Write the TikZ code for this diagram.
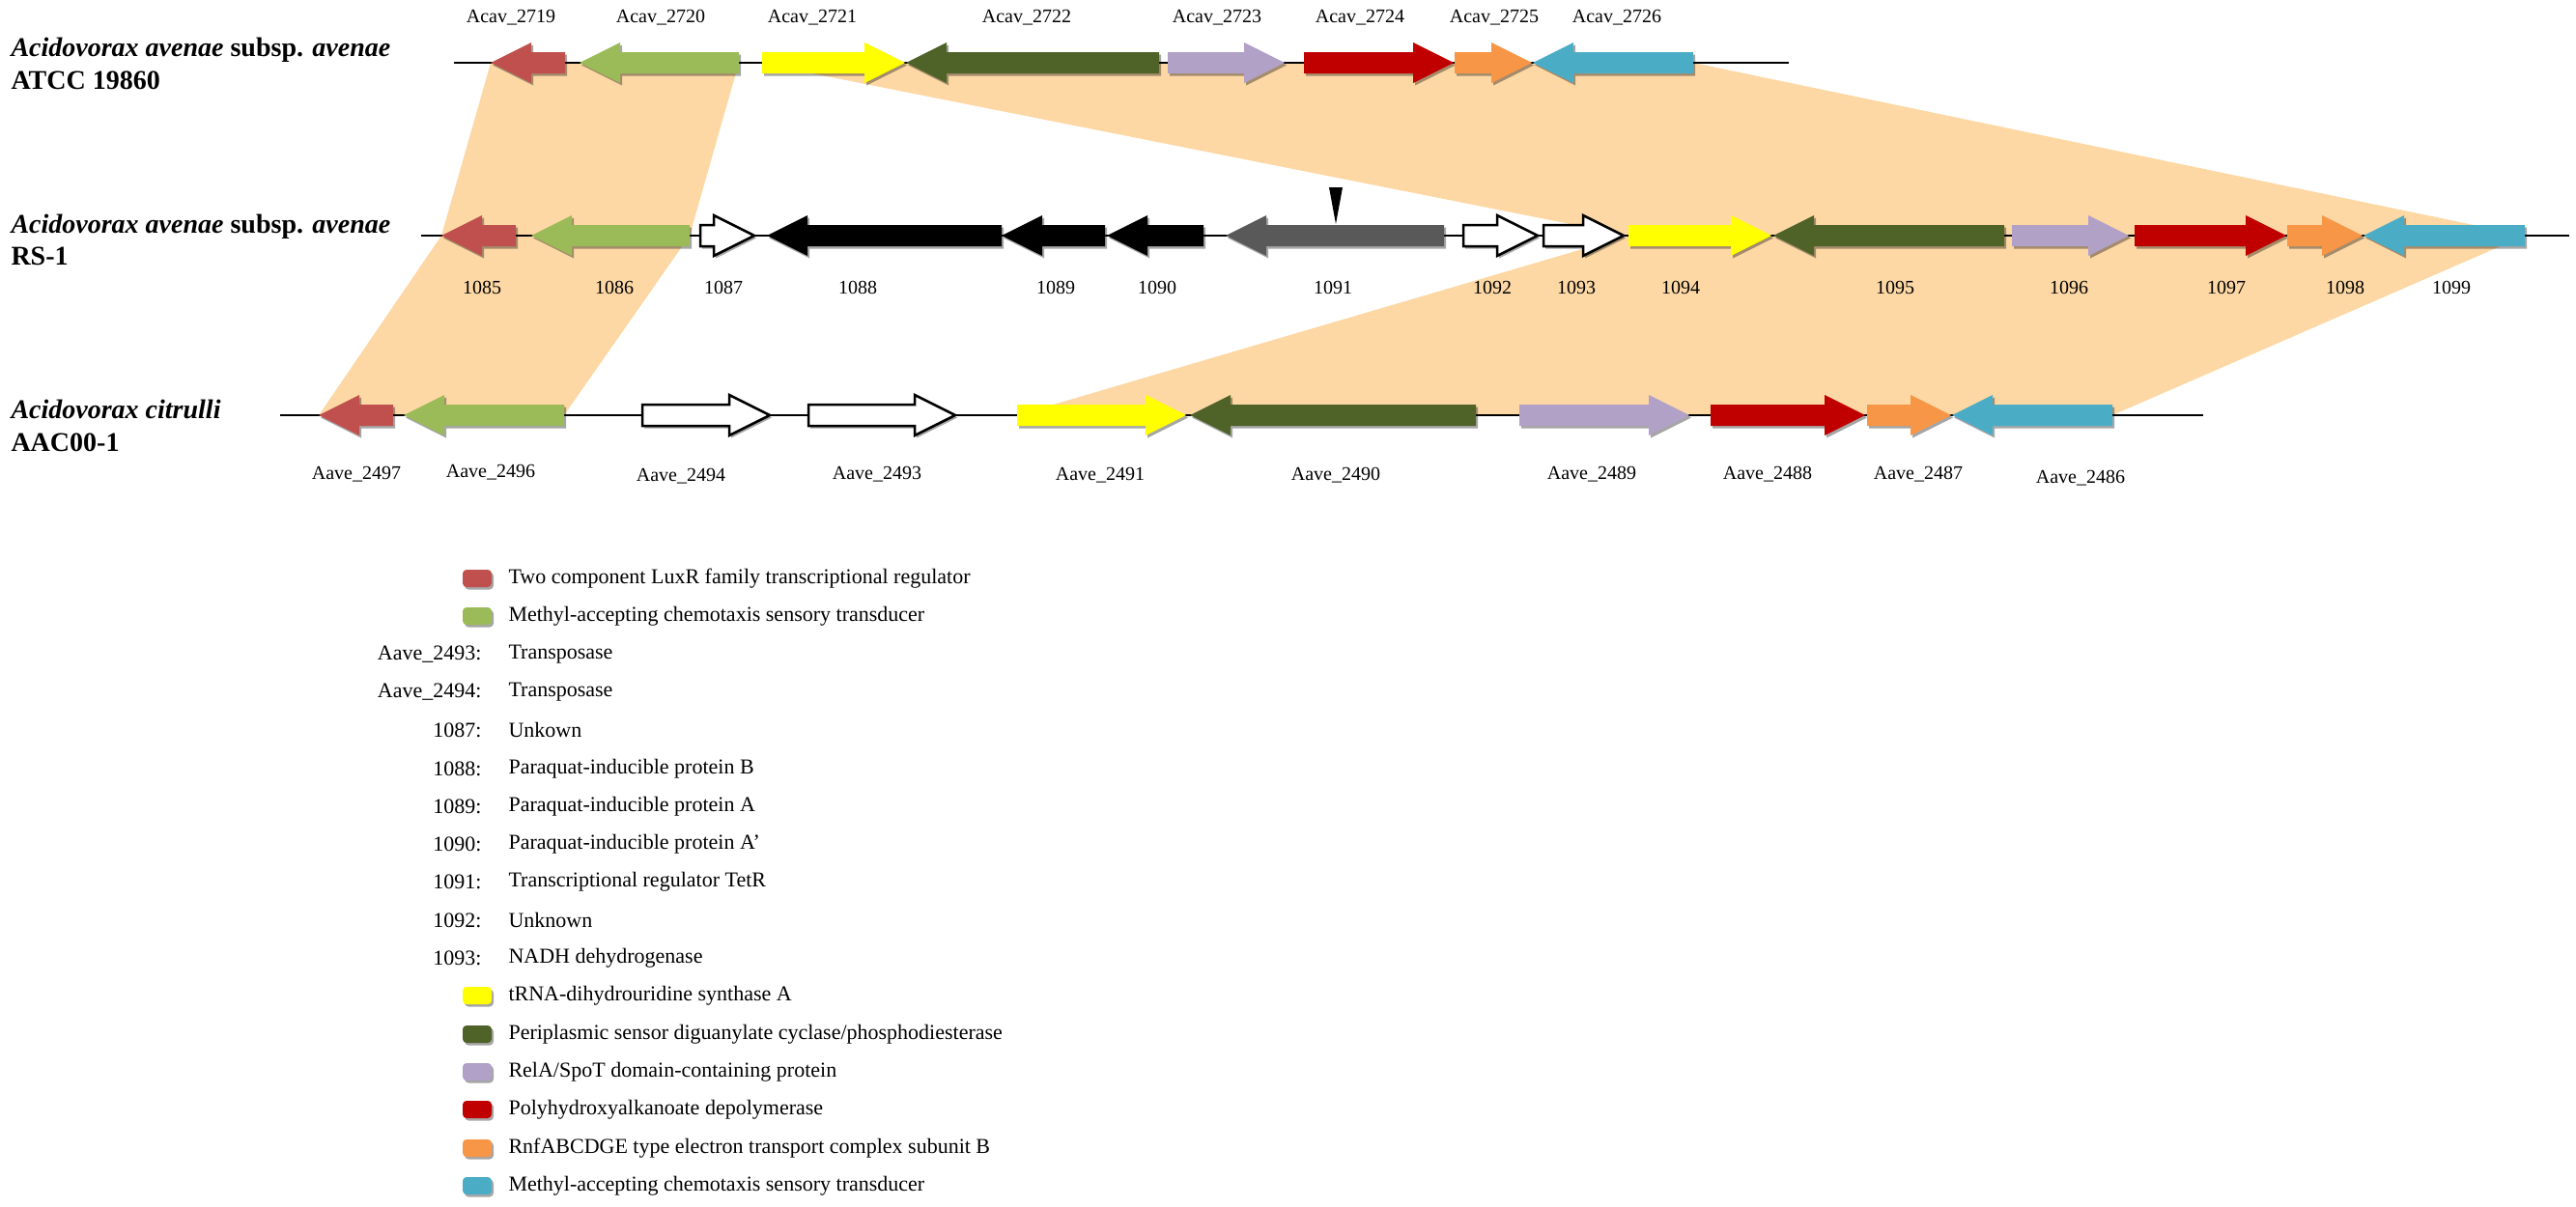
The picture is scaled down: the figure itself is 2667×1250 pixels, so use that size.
\documentclass[tikz,border=0pt]{standalone}
\usepackage{fontspec}
\setmainfont{Liberation Serif}
\usetikzlibrary{shadows}

\definecolor{luxr}{HTML}{C0504D}
\definecolor{mcp}{HTML}{9BBB59}
\definecolor{dus}{HTML}{FFFF00}
\definecolor{pde}{HTML}{4F6228}
\definecolor{rela}{HTML}{B2A1C7}
\definecolor{pha}{HTML}{C00000}
\definecolor{rnf}{HTML}{F79646}
\definecolor{mcpb}{HTML}{4BACC6}
\definecolor{tetr}{HTML}{595959}
\definecolor{band}{HTML}{FDD8A5}

% gene arrow: tail x, tip x, row y, style
\newcommand{\gene}[4]{%
  \pgfmathsetmacro{\hbase}{#2-42*sign(#2-#1)}%
  \path[gene, #4] (#1,#3-11) -- (\hbase,#3-11) -- (\hbase,#3-21) -- (#2,#3)
    -- (\hbase,#3+21) -- (\hbase,#3+11) -- (#1,#3+11) -- cycle;}

\begin{document}
\begin{tikzpicture}[x=1pt, y=-1pt,
    gene/.style={drop shadow={shadow xshift=2pt, shadow yshift=-2.5pt, fill=black, opacity=.35}},
    unk/.style={fill=white, draw=black, line width=2.5pt},
    backbone/.style={line width=2pt},
    glabel/.style={font=\fontsize{20}{24}\selectfont},
    species/.style={anchor=base west, font=\fontsize{28}{33}\selectfont\bfseries},
    legtext/.style={anchor=west, font=\fontsize{22}{26}\selectfont},
    legid/.style={anchor=east, font=\fontsize{22}{26}\selectfont},
    swatch/.style={rounded corners=4pt, drop shadow={shadow xshift=2pt, shadow yshift=-2.5pt, fill=black, opacity=.35}}]
  \useasboundingbox (0,0) rectangle (2667,1250);

  % shared regions
  \fill[band] (508,65) -- (765,65) -- (714,244) -- (584,430) -- (330,430) -- (457,244) -- cycle;
  \fill[band] (785,65) -- (1753,65) -- (2614,244) -- (2187,430) -- (1053,430) -- (1686,244) -- cycle;

  % strain names
  \node[species] (sp1a) at (8,58) {\textit{Acidovorax avenae} subsp. \textit{avenae}};
  \node[species] (sp1b) at (8,92) {ATCC 19860};
  \node[species] (sp2a) at (8,241) {\textit{Acidovorax avenae} subsp. \textit{avenae}};
  \node[species] (sp2b) at (8,274) {RS-1};
  \node[species] (sp3a) at (8,433) {\textit{Acidovorax citrulli}};
  \node[species] (sp3b) at (8,467) {AAC00-1};

  % ATCC 19860
  \draw[backbone] (470,65) -- (1852,65);
  \gene{585}{508}{65}{fill=luxr}
  \gene{765}{600}{65}{fill=mcp}
  \gene{789}{937}{65}{fill=dus}
  \gene{1200}{938}{65}{fill=pde}
  \gene{1209}{1330}{65}{fill=rela}
  \gene{1350}{1505}{65}{fill=pha}
  \gene{1506}{1586}{65}{fill=rnf}
  \gene{1753}{1587}{65}{fill=mcpb}
  \node[glabel] (a2719) at (529,18) {Acav\_2719};
  \node[glabel] (a2720) at (684,18) {Acav\_2720};
  \node[glabel] (a2721) at (841,18) {Acav\_2721};
  \node[glabel] (a2722) at (1063,18) {Acav\_2722};
  \node[glabel] (a2723) at (1260,18) {Acav\_2723};
  \node[glabel] (a2724) at (1408,18) {Acav\_2724};
  \node[glabel] (a2725) at (1547,18) {Acav\_2725};
  \node[glabel] (a2726) at (1674,18) {Acav\_2726};

  % RS-1
  \draw[backbone] (436,244) -- (2660,244);
  \gene{534}{457}{244}{fill=luxr}
  \gene{714}{550}{244}{fill=mcp}
  \gene{725}{781}{244}{unk}
  \gene{1037}{794}{244}{fill=black}
  \gene{1144}{1037}{244}{fill=black}
  \gene{1246}{1146}{244}{fill=black}
  \gene{1495}{1269}{244}{fill=tetr}
  \gene{1515}{1592}{244}{unk}
  \gene{1598}{1681}{244}{unk}
  \gene{1686}{1834}{244}{fill=dus}
  \gene{2075}{1836}{244}{fill=pde}
  \gene{2083}{2204}{244}{fill=rela}
  \gene{2210}{2367}{244}{fill=pha}
  \gene{2368}{2446}{244}{fill=rnf}
  \gene{2614}{2447}{244}{fill=mcpb}
  \fill (1376,194) -- (1390,194) -- (1383,232) -- cycle;
  \node[glabel] (r1085) at (499,298) {1085};
  \node[glabel] (r1086) at (636,298) {1086};
  \node[glabel] (r1087) at (749,298) {1087};
  \node[glabel] (r1088) at (888,298) {1088};
  \node[glabel] (r1089) at (1093,298) {1089};
  \node[glabel] (r1090) at (1198,298) {1090};
  \node[glabel] (r1091) at (1380,298) {1091};
  \node[glabel] (r1092) at (1545,298) {1092};
  \node[glabel] (r1093) at (1632,298) {1093};
  \node[glabel] (r1094) at (1740,298) {1094};
  \node[glabel] (r1095) at (1962,298) {1095};
  \node[glabel] (r1096) at (2142,298) {1096};
  \node[glabel] (r1097) at (2305,298) {1097};
  \node[glabel] (r1098) at (2428,298) {1098};
  \node[glabel] (r1099) at (2538,298) {1099};

  % AAC00-1
  \draw[backbone] (290,430) -- (2281,430);
  \gene{407}{330}{430}{fill=luxr}
  \gene{584}{418}{430}{fill=mcp}
  \gene{665}{797}{430}{unk}
  \gene{837}{989}{430}{unk}
  \gene{1053}{1228}{430}{fill=dus}
  \gene{1528}{1232}{430}{fill=pde}
  \gene{1573}{1749}{430}{fill=rela}
  \gene{1771}{1931}{430}{fill=pha}
  \gene{1933}{2020}{430}{fill=rnf}
  \gene{2187}{2021}{430}{fill=mcpb}
  \node[glabel] (c2497) at (369,491) {Aave\_2497};
  \node[glabel] (c2496) at (508,489) {Aave\_2496};
  \node[glabel] (c2494) at (705,493) {Aave\_2494};
  \node[glabel] (c2493) at (908,491) {Aave\_2493};
  \node[glabel] (c2491) at (1139,492) {Aave\_2491};
  \node[glabel] (c2490) at (1383,492) {Aave\_2490};
  \node[glabel] (c2489) at (1648,491) {Aave\_2489};
  \node[glabel] (c2488) at (1830,491) {Aave\_2488};
  \node[glabel] (c2487) at (1986,491) {Aave\_2487};
  \node[glabel] (c2486) at (2154,495) {Aave\_2486};

  % legend
  \path[swatch, fill=luxr] (479,590) rectangle (509,608);
  \node[legtext] (l01) at (523,599) {Two component LuxR family transcriptional regulator};
  \path[swatch, fill=mcp] (479,629) rectangle (509,647);
  \node[legtext] (l02) at (523,638) {Methyl-accepting chemotaxis sensory transducer};
  \node[legid] (k03) at (502,678) {Aave\_2493:};
  \node[legtext] (l03) at (523,678) {Transposase};
  \node[legid] (k04) at (502,717) {Aave\_2494:};
  \node[legtext] (l04) at (523,717) {Transposase};
  \node[legid] (k05) at (502,756) {1087:};
  \node[legtext] (l05) at (523,756) {Unkown};
  \node[legid] (k06) at (502,796) {1088:};
  \node[legtext] (l06) at (523,796) {Paraquat-inducible protein B};
  \node[legid] (k07) at (502,835) {1089:};
  \node[legtext] (l07) at (523,835) {Paraquat-inducible protein A};
  \node[legid] (k08) at (502,874) {1090:};
  \node[legtext] (l08) at (523,874) {Paraquat-inducible protein A’};
  \node[legid] (k09) at (502,913) {1091:};
  \node[legtext] (l09) at (523,913) {Transcriptional regulator TetR};
  \node[legid] (k10) at (502,953) {1092:};
  \node[legtext] (l10) at (523,953) {Unknown};
  \node[legid] (k11) at (502,992) {1093:};
  \node[legtext] (l11) at (523,992) {NADH dehydrogenase};
  \path[swatch, fill=dus] (479,1022) rectangle (509,1040);
  \node[legtext] (l12) at (523,1031) {tRNA-dihydrouridine synthase A};
  \path[swatch, fill=pde] (479,1062) rectangle (509,1080);
  \node[legtext] (l13) at (523,1071) {Periplasmic sensor diguanylate cyclase/phosphodiesterase};
  \path[swatch, fill=rela] (479,1101) rectangle (509,1119);
  \node[legtext] (l14) at (523,1110) {RelA/SpoT domain-containing protein};
  \path[swatch, fill=pha] (479,1140) rectangle (509,1158);
  \node[legtext] (l15) at (523,1149) {Polyhydroxyalkanoate depolymerase};
  \path[swatch, fill=rnf] (479,1180) rectangle (509,1198);
  \node[legtext] (l16) at (523,1189) {RnfABCDGE type electron transport complex subunit B};
  \path[swatch, fill=mcpb] (479,1219) rectangle (509,1237);
  \node[legtext] (l17) at (523,1228) {Methyl-accepting chemotaxis sensory transducer};
\end{tikzpicture}
\end{document}
